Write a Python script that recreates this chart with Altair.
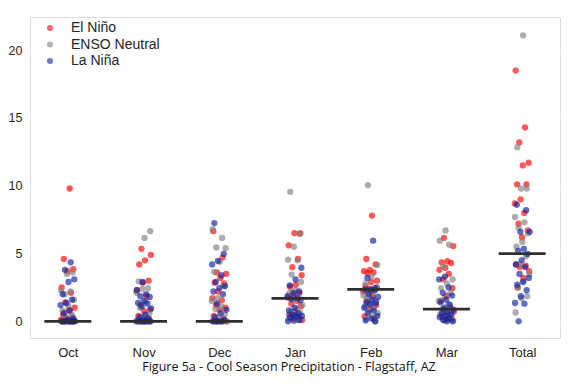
import altair as alt
import pandas as pd

months = ["Oct", "Nov", "Dec", "Jan", "Feb", "Mar", "Total"]
phases = ["El Niño", "ENSO Neutral", "La Niña"]
colors = ["#ff0000", "#808080", "#0a1e9e"]

oct_nino = [9.8, 4.6, 3.85, 3.7, 2.5, 2.1, 1.4, 1.0, 0.8, 0.5, 0.3, 0.2, 0.1, 0, 0, 0, 0, 0, 0]
oct_neutral = [3.6, 3.5, 2.3, 2.2, 2.0, 1.6, 1.15, 0.8, 0.5, 0.3, 0, 0, 0, 0, 0, 0, 0, 0]
oct_nina = [4.35, 3.8, 3.1, 2.9, 2.0, 1.6, 1.35, 1.2, 0.8, 0.6, 0.2, 0.1, 0, 0, 0, 0, 0, 0, 0]

nov_nino = [5.35, 4.9, 4.5, 4.2, 3.0, 2.85, 2.3, 1.85, 1.2, 0.85, 0.75, 0.4, 0.2, 0, 0, 0, 0, 0, 0]
nov_neutral = [6.65, 6.15, 2.95, 2.45, 2.4, 2.1, 1.45, 1.0, 0.6, 0.3, 0.1, 0, 0, 0, 0, 0, 0, 0]
nov_nina = [2.9, 2.3, 2.0, 1.85, 1.8, 1.5, 1.35, 1.3, 1.1, 0.95, 0.5, 0.3, 0.2, 0.1, 0, 0, 0, 0, 0]

dec_nino = [6.65, 4.7, 3.6, 3.5, 3.2, 2.85, 2.8, 2.2, 1.7, 1.55, 1.2, 1.0, 0.85, 0.4, 0.2, 0, 0, 0, 0]
dec_neutral = [6.8, 6.15, 5.45, 5.4, 4.4, 3.65, 2.6, 1.7, 1.5, 1.1, 0.9, 0.5, 0.3, 0, 0, 0, 0, 0]
dec_nina = [7.25, 4.97, 4.45, 4.2, 3.4, 2.9, 2.6, 2.45, 2.2, 2.0, 1.3, 0.85, 0.6, 0.3, 0.1, 0, 0, 0, 0]

jan_nino = [6.5, 6.5, 5.6, 4.6, 3.99, 3.4, 2.7, 2.55, 2.1, 1.97, 1.75, 1.5, 1.3, 1.1, 0.74, 0.5, 0.3, 0.2, 0.1]
jan_neutral = [9.55, 6.45, 5.5, 4.55, 4.5, 3.45, 2.9, 2.3, 2.1, 1.8, 1.6, 1.2, 0.9, 0.7, 0.6, 0.4, 0.2, 0.1]
jan_nina = [3.95, 3.1, 2.65, 2.2, 2.1, 1.85, 1.72, 1.65, 1.55, 1.0, 0.8, 0.6, 0.5, 0.4, 0.37, 0.3, 0.1, 0.05, 0]

feb_nino = [7.8, 4.6, 4.2, 3.8, 3.7, 3.6, 3.55, 3.0, 2.9, 2.6, 2.45, 2.4, 2.2, 1.9, 1.5, 1.2, 0.9, 0.37, 0.2]
feb_neutral = [10.05, 4.15, 3.3, 2.8, 2.3, 2.1, 1.9, 1.77, 1.7, 1.5, 1.3, 1.1, 1.0, 0.8, 0.6, 0.37, 0.2, 0]
feb_nina = [5.95, 3.2, 2.5, 2.35, 2.35, 2.3, 2.0, 1.8, 1.6, 1.4, 1.35, 1.25, 1.0, 0.79, 0.6, 0.4, 0.2, 0.07, 0]

mar_nino = [6.15, 5.55, 4.43, 4.35, 4.3, 3.95, 3.8, 3.5, 3.1, 2.45, 1.9, 1.5, 1.0, 0.86, 0.7, 0.5, 0.35, 0.2, 0.1]
mar_neutral = [6.7, 5.95, 5.65, 4.05, 3.1, 2.8, 2.45, 2.1, 1.77, 1.5, 1.23, 0.9, 0.8, 0.6, 0.5, 0.3, 0.1, 0.05]
mar_nina = [3.3, 3.1, 2.5, 2.1, 1.9, 1.6, 1.4, 1.23, 1.0, 0.86, 0.7, 0.6, 0.5, 0.4, 0.3, 0.2, 0.1, 0, 0]

total_nino = [18.5, 14.3, 13.2, 11.7, 11.5, 10.1, 10.1, 9.0, 8.7, 8.0, 7.2, 6.7, 6.2, 4.2, 4.1, 4.0, 3.7, 3.2, 2.5]
total_neutral = [21.1, 12.85, 9.8, 9.8, 7.7, 7.3, 6.9, 6.5, 5.85, 5.5, 4.8, 4.2, 3.5, 3.0, 2.5, 1.85, 1.7, 0.65]
total_nina = [8.6, 8.2, 6.6, 6.6, 5.35, 5.2, 4.97, 4.5, 4.2, 4.0, 3.5, 3.2, 2.9, 2.7, 2.3, 1.85, 1.35, 1.3, 0.0]

medians = [0.0, 0.0, 0.0, 1.7, 2.35, 0.9, 5.0]

series = {
    "Oct": [oct_nino, oct_neutral, oct_nina],
    "Nov": [nov_nino, nov_neutral, nov_nina],
    "Dec": [dec_nino, dec_neutral, dec_nina],
    "Jan": [jan_nino, jan_neutral, jan_nina],
    "Feb": [feb_nino, feb_neutral, feb_nina],
    "Mar": [mar_nino, mar_neutral, mar_nina],
    "Total": [total_nino, total_neutral, total_nina],
}

rows = []
k = 0
for p, phase in enumerate(phases):
    for m, month in enumerate(months):
        for v in series[month][p]:
            k += 1
            jit = ((k * 0.6180339887) % 1.0 - 0.5) * 0.2
            rows.append({"month": month, "idx": m, "phase": phase, "order": p,
                         "value": v, "pos": m + jit})
pts = pd.DataFrame(rows)

med = pd.DataFrame({"month": months, "idx": list(range(len(months))), "median": medians})

xscale = alt.Scale(domain=[-0.5, 6.5], nice=False, zero=False)
yscale = alt.Scale(domain=[-1.23, 22.45], nice=False, zero=False)

label_expr = "[" + ",".join(f"'{m}'" for m in months) + "][datum.value]"

points = alt.Chart(pts).mark_circle(size=40, opacity=0.65).encode(
    x=alt.X("pos:Q", scale=xscale, title=None,
            axis=alt.Axis(values=list(range(7)), labelExpr=label_expr, grid=False,
                          domain=False, ticks=False, tickSize=0, labelPadding=8,
                          labelFont="Liberation Sans", labelFontSize=13, labelColor="#262626")),
    y=alt.Y("value:Q", scale=yscale, title=None,
            axis=alt.Axis(values=[0, 5, 10, 15, 20], grid=True, gridColor="white", gridWidth=1.2,
                          domain=False, ticks=False, tickSize=0, labelPadding=8,
                          labelFont="Liberation Sans", labelFontSize=12.5, labelColor="#262626")),
    color=alt.Color("phase:N", scale=alt.Scale(domain=phases, range=colors), sort=phases,
                    legend=alt.Legend(title=None, orient="none", legendX=13, legendY=4,
                                      symbolType="circle", symbolSize=36, symbolOpacity=0.6,
                                      labelFont="Liberation Sans", labelFontSize=14,
                                      labelColor="#262626", labelOffset=14, rowPadding=2.5,
                                      padding=0)),
    order=alt.Order("order:Q"),
)

lines = alt.Chart(med).transform_calculate(
    x1="datum.idx - 0.31", x2="datum.idx + 0.31"
).mark_rule(color="#2e2e2e", strokeWidth=2.7).encode(
    x=alt.X("x1:Q", scale=xscale),
    x2="x2:Q",
    y=alt.Y("median:Q", scale=yscale),
)

chart = alt.layer(points, lines).properties(
    width=530, height=321,
    autosize=alt.AutoSizeParams(type="none"),
    padding={"left": 22, "top": 9, "right": 10, "bottom": 38},
    title=alt.TitleParams("Figure 5a - Cool Season Precipitation - Flagstaff, AZ",
                          orient="bottom", anchor="middle", font="Open Sans",
                          fontSize=12.5, fontWeight="normal", color="#111111",
                          offset=2, dx=-6),
).configure_view(fill="#EAEAF2", stroke=None).configure(background="white")

chart.save("out.html", embed_options={"renderer": "svg", "actions": False})
